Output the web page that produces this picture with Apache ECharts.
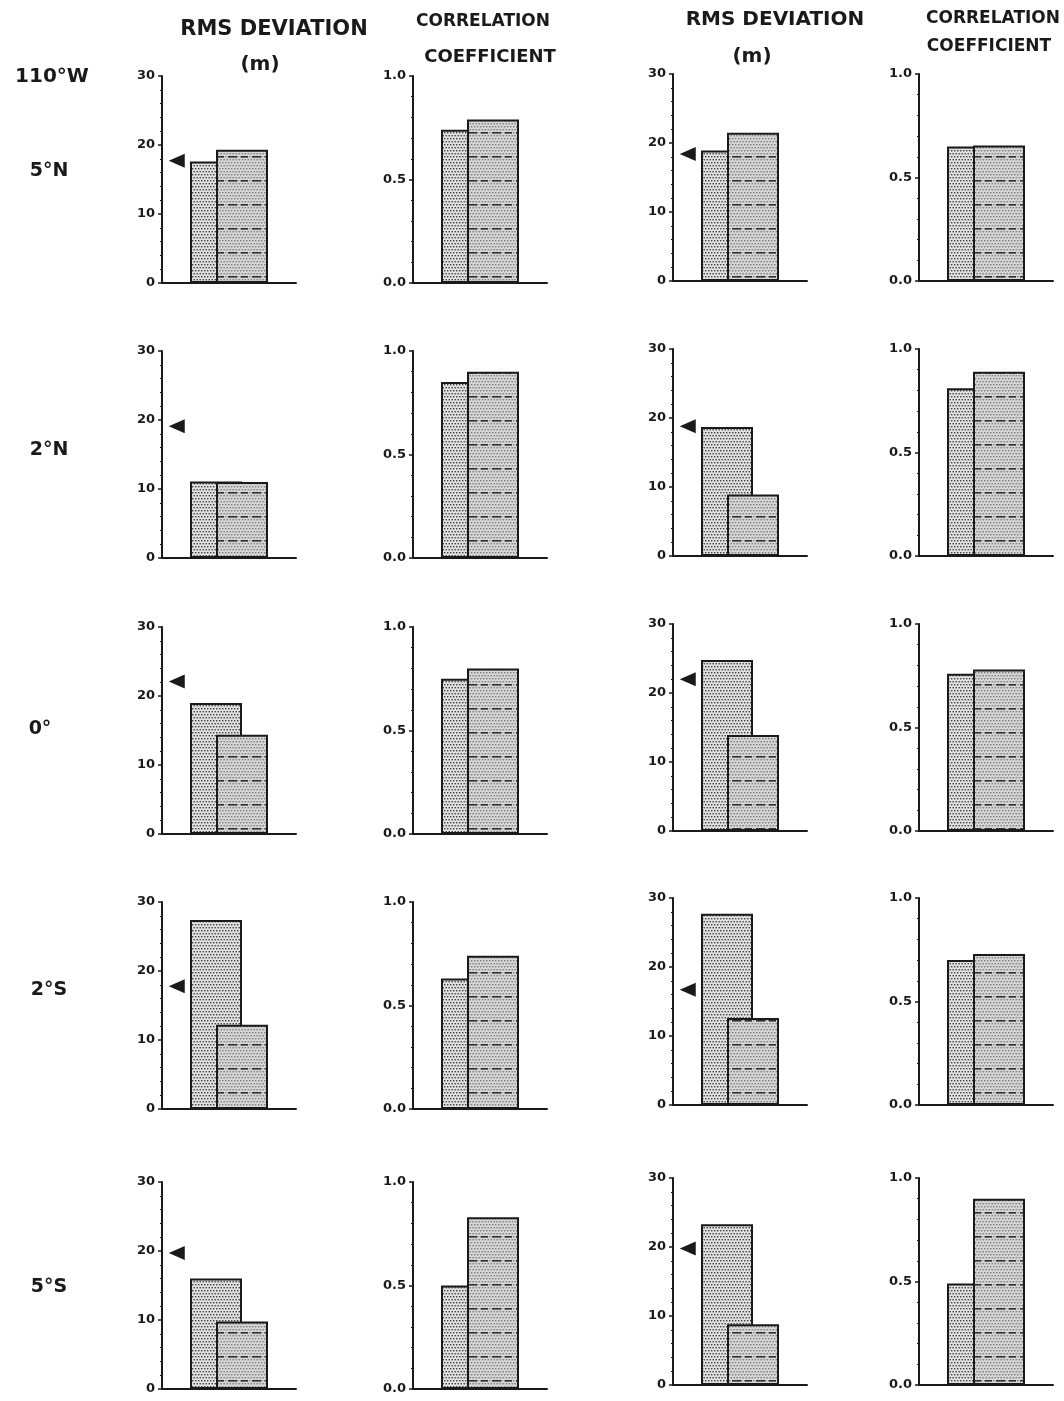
<!DOCTYPE html>
<html>
<head>
<meta charset="utf-8">
<script src="https://cdn.jsdelivr.net/npm/echarts@6/dist/echarts.min.js"></script>
<style>
  html, body { margin: 0; padding: 0; background: #fff; }
  #main { width: 1064px; height: 1401px; }
</style>
</head>
<body>
<div id="main"></div>
<script>
// rows: latitude at 110°W
const rowLabels = ['5°N', '2°N', '0°', '2°S', '5°S'];

// left pair of panels
const rmsA_L = [17.6, 11.1, 19.0, 27.4, 16.0];
const rmsB_L = [19.3, 11.0, 14.4, 12.2, 9.8];
const rmsMark_L = [17.7, 19.1, 22.1, 17.8, 19.7];
const corrA_L = [0.74, 0.85, 0.75, 0.63, 0.50];
const corrB_L = [0.79, 0.90, 0.80, 0.74, 0.83];

// right pair of panels
const rmsA_R = [18.9, 18.7, 24.8, 27.7, 23.3];
const rmsB_R = [21.5, 8.9, 13.9, 12.6, 8.8];
const rmsMark_R = [18.4, 18.8, 22.0, 16.7, 19.8];
const corrA_R = [0.65, 0.81, 0.76, 0.70, 0.49];
const corrB_R = [0.655, 0.89, 0.78, 0.73, 0.90];

// ---- layout ----
const colLeft = [162, 413, 673, 919];
const gridW = 134;
const gridH = 207;
const rowTopL = [76, 351, 627, 902, 1182];
const rowTopR = [74, 349, 624, 898, 1178];
const INK = '#1a1a1a';
const FONT = 'DejaVu Sans';

// stipple fills
function stipple(bg, dot, step, streak) {
  const cv = document.createElement('canvas');
  cv.width = 24; cv.height = 24;
  const g = cv.getContext('2d');
  g.fillStyle = bg; g.fillRect(0, 0, 24, 24);
  g.fillStyle = dot;
  let row = 0;
  for (let y = 0; y < 24; y += step, row++) {
    const off = (row % 2) ? step / 2 : 0;
    for (let x = off; x < 24; x += step) g.fillRect(x, y, 1.4, 1.4);
  }
  if (streak) {
    g.fillStyle = '#333';
    g.fillRect(1, 12, 7, 1.6);
    g.fillRect(12, 12, 9, 1.6);
  }
  return { image: cv, repeat: 'repeat' };
}
const fillA = stipple('#e0e0e0', '#404040', 3, false);
const fillB = stipple('#d6d6d6', '#7a7a7a', 3, true);

function yAxisCfg(g, isRms) {
  return {
    type: 'value', gridIndex: g, min: 0, max: isRms ? 30 : 1, interval: isRms ? 10 : 0.5,
    axisLine: { show: true, lineStyle: { color: INK, width: 2 } },
    axisTick: { show: true, length: 4, lineStyle: { color: INK, width: 1.5 } },
    minorTick: { show: true, splitNumber: 5, length: 2, lineStyle: { color: INK, width: 1 } },
    splitLine: { show: false },
    axisLabel: {
      color: INK, fontFamily: FONT, fontSize: 13, fontWeight: 'bold', margin: 7,
      formatter: v => isRms ? String(v) : v.toFixed(1)
    }
  };
}

const grids = [], xAxes = [], yAxes = [], series = [];
for (let r = 0; r < 5; r++) {
  for (let c = 0; c < 4; c++) {
    const g = r * 4 + c;
    const isRms = c % 2 === 0;
    const right = c >= 2;
    grids.push({ left: colLeft[c], top: right ? rowTopR[r] : rowTopL[r], width: gridW, height: gridH });
    xAxes.push({
      type: 'category', gridIndex: g, data: [rowLabels[r]],
      axisLine: { lineStyle: { color: INK, width: 2 } },
      axisTick: { show: false }, axisLabel: { show: false }
    });
    xAxes.push({ type: 'value', gridIndex: g, min: 0, max: 1, show: false });
    yAxes.push(yAxisCfg(g, isRms));

    let a, b;
    if (isRms) { a = right ? rmsA_R : rmsA_L; b = right ? rmsB_R : rmsB_L; }
    else { a = right ? corrA_R : corrA_L; b = right ? corrB_R : corrB_L; }
    const barBase = {
      type: 'bar', xAxisIndex: 2 * g, yAxisIndex: g, barWidth: 52, barGap: '-50%',
      silent: true, animation: false
    };
    series.push({ ...barBase, data: [a[r]], itemStyle: { color: fillA, borderColor: INK, borderWidth: 2 } });
    series.push({ ...barBase, data: [b[r]], itemStyle: { color: fillB, borderColor: INK, borderWidth: 2 } });
    if (isRms) {
      const m = right ? rmsMark_R : rmsMark_L;
      series.push({
        type: 'scatter', xAxisIndex: 2 * g + 1, yAxisIndex: g, silent: true, animation: false,
        data: [[0.11, m[r]]], symbol: 'triangle', symbolRotate: 90, symbolSize: [14, 16],
        itemStyle: { color: INK, opacity: 1 }
      });
    }
  }
}

function txt(x, y, text, size, bold) {
  return {
    type: 'text', x, y, silent: true,
    style: { text, fill: INK, align: 'center', verticalAlign: 'middle',
      font: (bold ? 'bold ' : '') + size + 'px ' + FONT }
  };
}

const graphic = [
  txt(274, 30, 'RMS DEVIATION', 21, true),
  txt(260, 65, '(m)', 20, true),
  txt(483, 22, 'CORRELATION', 17, true),
  txt(490, 57, 'COEFFICIENT', 18, true),
  txt(775, 20, 'RMS DEVIATION', 20, true),
  txt(752, 57, '(m)', 20, true),
  txt(993, 19, 'CORRELATION', 17, true),
  txt(989, 47, 'COEFFICIENT', 17, true),
  txt(52, 77, '110°W', 20, true)
];
const rowLabelY = [171, 450, 729, 990, 1287];
rowLabels.forEach((s, i) => graphic.push(txt(i === 2 ? 40 : 49, rowLabelY[i], s, 19, true)));

const chart = echarts.init(document.getElementById('main'), null, { renderer: 'canvas' });
chart.setOption({
  backgroundColor: '#ffffff',
  animation: false,
  grid: grids,
  xAxis: xAxes,
  yAxis: yAxes,
  series,
  graphic
});
</script>
</body>
</html>
